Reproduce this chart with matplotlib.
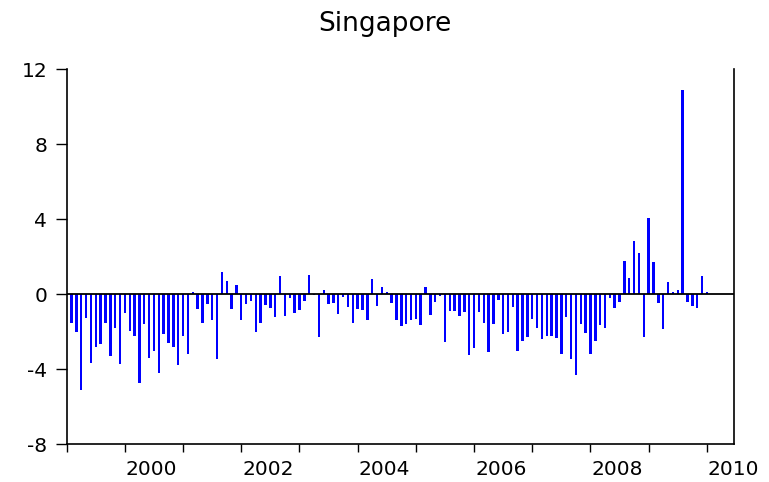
import numpy as np
import matplotlib.pyplot as plt

values = [
    -1.55, -1.99, -5.08, -1.28, -3.64, -2.83, -2.63, -1.51, -3.27, -1.78, -3.73, -0.98,
    -1.97, -2.24, -4.71, -1.56, -3.38, -3.02, -4.21, -2.12, -2.60, -2.83, -3.79, -2.24,
    -3.16, 0.10, -0.80, -1.55, -0.53, -1.37, -3.43, 1.17, 0.69, -0.78, 0.48, -1.37,
    -0.52, -0.37, -1.99, -1.51, -0.59, -0.75, -1.19, 0.98, -1.16, -0.21, -1.01, -0.82,
    -0.37, 1.05, -0.05, -2.29, 0.25, -0.50, -0.44, -1.07, -0.16, -0.66, -1.55, -0.76,
    -0.82, -1.39, 0.82, -0.60, 0.39, 0.10, -0.44, -1.35, -1.71, -1.56, -1.35, -1.30,
    -1.65, 0.41, -1.10, -0.39, -0.11, -2.56, -0.91, -0.91, -1.17, -0.92, -3.22, -2.86,
    -0.92, -1.51, -3.06, -1.56, -0.28, -2.10, -1.99, -0.69, -3.00, -2.49, -2.26, -1.33,
    -1.81, -2.38, -2.22, -2.20, -2.33, -3.20, -1.23, -3.43, -4.32, -1.60, -2.04, -3.18,
    -2.47, -1.62, -1.78, -0.20, -0.71, -0.43, 1.78, 0.85, 2.83, 2.19, -2.30, 4.05,
    1.71, -0.44, -1.87, 0.64, 0.11, 0.21, 10.90, -0.39, -0.60, -0.71, 0.96, 0.12,
]
year_labels = ['2000', '2002', '2004', '2006', '2008', '2010']
y_ticks = [-8, -4, 0, 4, 8, 12]

plt.rcParams['font.family'] = ['DejaVu Sans']

fig = plt.figure(figsize=(7.69, 4.82), dpi=100)
ax = fig.add_axes([0.0867, 0.0782, 0.8678, 0.778])

x = np.arange(1, len(values) + 1)
ax.bar(x, values, width=0.5, color='#0000ff', linewidth=0)
ax.axhline(0, color='black', linewidth=1.3, zorder=3)

ax.set_xlim(0, 137.6)
ax.set_ylim(-8, 12)

ax.set_yticks(y_ticks)
ax.set_yticklabels([str(v) for v in y_ticks])

# graduations annuelles, étiquettes au milieu de l'année
ax.set_xticks(np.arange(0, 133, 12))
ax.set_xticklabels([])
ax.set_xticks(17.5 + 24 * np.arange(len(year_labels)), minor=True)
ax.set_xticklabels(year_labels, minor=True)
ax.tick_params(axis='x', which='major', direction='out', length=6, width=1.0)
ax.tick_params(axis='x', which='minor', length=0, pad=11, labelsize=14.5)
ax.tick_params(axis='y', direction='out', length=8, width=1.0, pad=6, labelsize=14.5)

ax.spines['top'].set_visible(False)
for s in ['left', 'bottom', 'right']:
    ax.spines[s].set_linewidth(1.2)

fig.text(0.5, 1 - 30.7 / 482, 'Singapore', ha='center', va='baseline', fontsize=19)

fig.savefig('out.png', dpi=100)
